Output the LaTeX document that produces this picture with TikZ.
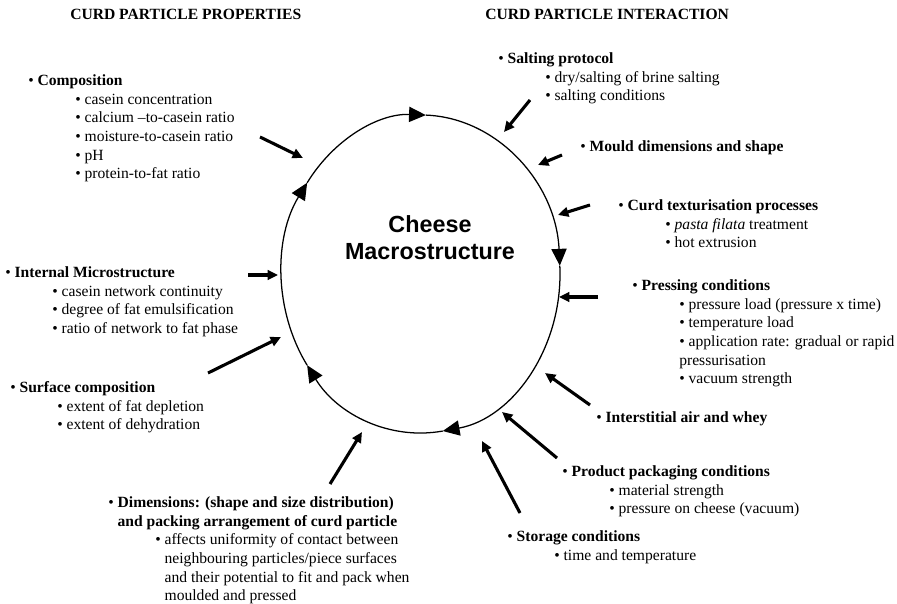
\documentclass[tikz,border=0pt]{standalone}
\usepackage{fontspec}
\setmainfont{Liberation Serif}
\newfontfamily\arialfont{Liberation Sans}
\usepackage{tikz}
\usetikzlibrary{positioning, calc, arrows.meta}

\newcommand{\bul}{\strut\textbullet\ }
\newcommand{\inbul}{\hspace*{11.75mm}\textbullet\ }

\begin{document}
\begin{tikzpicture}[x=0.25mm, y=0.25mm,
    title/.style={font=\fontsize{11.1}{13.3}\selectfont\bfseries,
                  anchor=base west, inner sep=0pt},
    item/.style={font=\fontsize{11.1}{13.3}\selectfont, align=left,
                 anchor=north west, inner sep=0pt},
    arw/.style={line width=2.2pt, -{Triangle[length=2.6mm, width=2.4mm]}},
    flow/.style={line width=0.9pt, -{Triangle[length=4.2mm, width=3.8mm]}},
]
\useasboundingbox (0,0) rectangle (897,-604);

% --- Headings ---
\node[title] (props) at (70,-20) {CURD PARTICLE PROPERTIES};
\node[title] (inter) at (485,-20) {CURD PARTICLE INTERACTION};

% --- Centre ---
\coordinate (ctr) at (421,-274);
\node[font=\arialfont\bfseries\fontsize{16.6}{19.2}\selectfont, align=center]
    (cheese) at (430,-238) {Cheese\\Macrostructure};

\draw[flow] ($(ctr)+(145:139 and 159)$)
    arc[start angle=145, end angle=88, x radius=139, y radius=159];
\draw[flow] ($(ctr)+(88:139 and 159)$)
    arc[start angle=88, end angle=3, x radius=139, y radius=159];
\draw[flow] ($(ctr)+(3:139 and 159)$)
    arc[start angle=3, end angle=-81, x radius=139, y radius=159];
\draw[flow] ($(ctr)+(-81:139 and 159)$)
    arc[start angle=-81, end angle=-145, x radius=139, y radius=159];
\draw[flow] ($(ctr)+(-145:139 and 159)$)
    arc[start angle=-145, end angle=-215, x radius=139, y radius=159];

% --- Curd particle properties ---
\node[item] (comp) at (28,-72) {\bul\textbf{Composition}\\
    \inbul casein concentration\\
    \inbul calcium –to-casein ratio\\
    \inbul moisture-to-casein ratio\\
    \inbul pH\\
    \inbul protein-to-fat ratio};

\node[item] (micro) at (5,-264) {\bul\textbf{Internal Microstructure}\\
    \inbul casein network continuity\\
    \inbul degree of fat emulsification\\
    \inbul ratio of network to fat phase};

\node[item] (surf) at (10,-379) {\bul\textbf{Surface composition}\\
    \inbul extent of fat depletion\\
    \inbul extent of dehydration};

\node[item] (dims) at (108,-494)
    {\bul\textbf{Dimensions: (shape and size distribution)}\\
    \phantom{\bul}\textbf{and packing arrangement of curd particle}\\
    \inbul affects uniformity of contact between\\
    \hspace*{11.75mm}\phantom{\bul}neighbouring particles/piece surfaces\\
    \hspace*{11.75mm}\phantom{\bul}and their potential to fit and pack when\\
    \hspace*{11.75mm}\phantom{\bul}moulded and pressed};

% --- Curd particle interaction ---
\node[item] (salt) at (498,-50) {\bul\textbf{Salting protocol}\\
    \inbul dry/salting of brine salting\\
    \inbul salting conditions};

\node[item] (mould) at (580,-138) {\bul\textbf{Mould dimensions and shape}};

\node[item] (textur) at (618,-197) {\bul\textbf{Curd texturisation processes}\\
    \inbul \textit{pasta filata} treatment\\
    \inbul hot extrusion};

\node[item] (press) at (632,-277) {\bul\textbf{Pressing conditions}\\
    \inbul pressure load (pressure x time)\\
    \inbul temperature load\\
    \inbul application rate: gradual or rapid\\
    \hspace*{11.75mm}pressurisation\\
    \inbul vacuum strength};

\node[item] (air) at (596,-409) {\bul\textbf{Interstitial air and whey}};

\node[item] (pack) at (562,-463) {\bul\textbf{Product packaging conditions}\\
    \inbul material strength\\
    \inbul pressure on cheese (vacuum)};

\node[item] (store) at (507,-528) {\bul\textbf{Storage conditions}\\
    \inbul time and temperature};

% --- Arrows into the macrostructure ---
\coordinate (comp_s) at (260,-137);  \coordinate (comp_e) at (303,-158);
\coordinate (micro_s) at (248,-275); \coordinate (micro_e) at (278,-275);
\coordinate (surf_s) at (208,-373);  \coordinate (surf_e) at (281,-337);
\coordinate (dims_s) at (330,-484);  \coordinate (dims_e) at (362,-432);
\coordinate (salt_s) at (530,-100);  \coordinate (salt_e) at (504,-132);
\coordinate (mould_s) at (562,-155); \coordinate (mould_e) at (538,-165);
\coordinate (textur_s) at (590,-205); \coordinate (textur_e) at (558,-215);
\coordinate (press_s) at (598,-297); \coordinate (press_e) at (559,-297);
\coordinate (air_s) at (590,-405);   \coordinate (air_e) at (545,-373);
\coordinate (pack_s) at (557,-458);  \coordinate (pack_e) at (502,-412);
\coordinate (store_s) at (520,-513); \coordinate (store_e) at (482,-441);

\draw[arw] (comp_s) -- (comp_e);
\draw[arw] (micro_s) -- (micro_e);
\draw[arw] (surf_s) -- (surf_e);
\draw[arw] (dims_s) -- (dims_e);
\draw[arw] (salt_s) -- (salt_e);
\draw[arw] (mould_s) -- (mould_e);
\draw[arw] (textur_s) -- (textur_e);
\draw[arw] (press_s) -- (press_e);
\draw[arw] (air_s) -- (air_e);
\draw[arw] (pack_s) -- (pack_e);
\draw[arw] (store_s) -- (store_e);
\end{tikzpicture}
\end{document}
